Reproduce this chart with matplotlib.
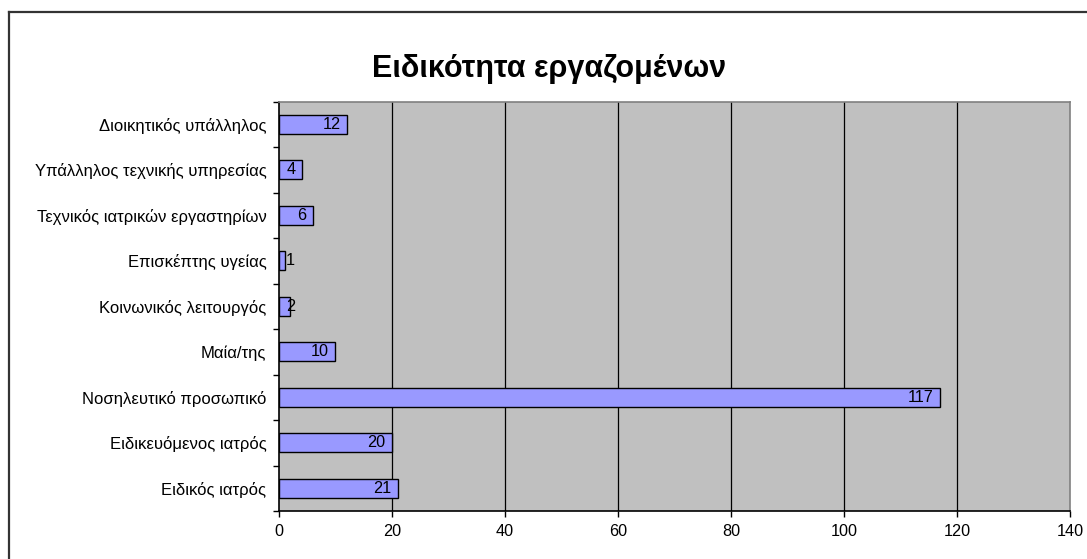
import matplotlib
matplotlib.use("Agg")
import matplotlib.pyplot as plt
from matplotlib.lines import Line2D
import numpy as np

plt.rcParams["font.family"] = ["Liberation Sans", "DejaVu Sans"]

# staff specialties, listed bottom to top
categories = [
    "Ειδικός ιατρός",
    "Ειδικευόμενος ιατρός",
    "Νοσηλευτικό προσωπικό",
    "Μαία/της",
    "Κοινωνικός λειτουργός",
    "Επισκέπτης υγείας",
    "Τεχνικός ιατρικών εργαστηρίων",
    "Υπάλληλος τεχνικής υπηρεσίας",
    "Διοικητικός υπάλληλος",
]
counts = [21, 20, 117, 10, 2, 1, 6, 4, 12]
x_ticks = [0, 20, 40, 60, 80, 100, 120, 140]

fig = plt.figure(figsize=(10.87, 5.59), dpi=100)
ax = fig.add_axes([279 / 1087, 1 - 511 / 559, (1070 - 279) / 1087, (511 - 101.5) / 559])

# chart-area frame (top and left edges)
fig.add_artist(Line2D([9 / 1087, 9 / 1087], [-0.01, 1 - 12 / 559], transform=fig.transFigure,
                      color="#333333", lw=1.6))
fig.add_artist(Line2D([9 / 1087, 1.01], [1 - 12 / 559, 1 - 12 / 559], transform=fig.transFigure,
                      color="#333333", lw=1.6))

ax.set_facecolor("#C0C0C0")
y = np.arange(len(categories))
ax.barh(y, counts, height=0.42, color="#9999FF", edgecolor="black", linewidth=1.0, zorder=3)

for yi, v in zip(y, counts):
    if v <= 2:
        ax.annotate(str(v), (0, yi), xytext=(5, 0), textcoords="offset points",
                    ha="left", va="center", fontsize=11.7, zorder=4)
    else:
        ax.annotate(str(v), (v, yi), xytext=(-4.5, 0), textcoords="offset points",
                    ha="right", va="center", fontsize=11.7, zorder=4)

ax.set_xlim(0, 140)
ax.set_ylim(-0.5, len(categories) - 0.5)
ax.set_xticks(x_ticks)
ax.set_xticklabels([str(t) for t in x_ticks], fontsize=11.7)
for gx in x_ticks[1:-1]:
    ax.axvline(gx, color="black", lw=0.9, zorder=1)

# category labels centred on bars, tick marks between categories
ax.set_yticks(y)
ax.set_yticklabels(categories, fontsize=12)
ax.tick_params(axis="y", length=0, pad=9)
ax.set_yticks(np.arange(len(categories) + 1) - 0.5, minor=True)
ax.tick_params(axis="y", which="minor", length=4, width=1, direction="out", color="black")
ax.tick_params(axis="x", length=4, width=1, direction="out", pad=5)

ax.spines["left"].set_color("black")
ax.spines["bottom"].set_color("black")
ax.spines["top"].set_color("#808080")
ax.spines["right"].set_color("#808080")
for s in ax.spines.values():
    s.set_linewidth(1.2)

fig.text(549 / 1087, 1 - 69 / 559, "Ειδικότητα εργαζομένων", ha="center", va="center",
         fontsize=22, fontweight="bold")

fig.savefig("out.png", dpi=100)
